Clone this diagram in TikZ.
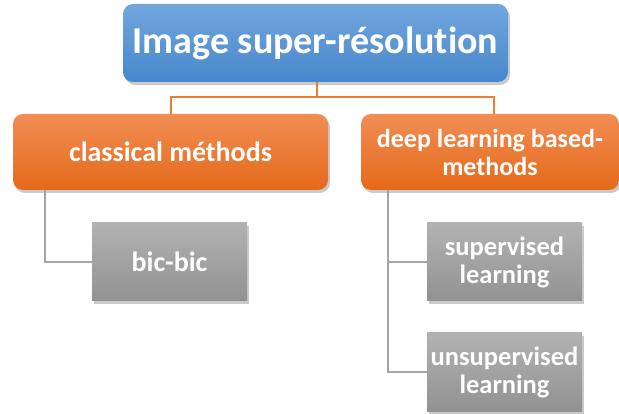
\documentclass[tikz,border=0pt]{standalone}
\usepackage{fontspec}
\setmainfont[Ligatures=CommonOff]{Carlito}
\usetikzlibrary{shadows,positioning}

\definecolor{bluetop}{HTML}{72A6DD}
\definecolor{bluebot}{HTML}{4787CC}
\definecolor{orgtop}{HTML}{F18E55}
\definecolor{orgbot}{HTML}{E5691A}
\definecolor{graytop}{HTML}{B2B2B2}
\definecolor{graybot}{HTML}{929292}
\definecolor{orgline}{HTML}{ED7D31}
\definecolor{grayline}{HTML}{A5A5A5}

\tikzset{
  x=1pt, y=-1pt,
  boxbase/.style={inner sep=0pt, text=white, align=center, font=\bfseries,
    drop shadow={shadow xshift=2pt, shadow yshift=-3pt, opacity=0.35, fill=black!60}},
  rootbox/.style={boxbase, rounded corners=10pt, top color=bluetop, bottom color=bluebot,
    font=\bfseries\fontsize{38}{44}\selectfont},
  midbox/.style={boxbase, rounded corners=10pt, top color=orgtop, bottom color=orgbot,
    font=\bfseries\fontsize{28}{28}\selectfont},
  leafbox/.style={boxbase, top color=graytop, bottom color=graybot,
    font=\bfseries\fontsize{28}{28}\selectfont},
  smalltext/.style={font=\bfseries\fontsize{26.5}{28}\selectfont},
  orgconn/.style={draw=orgline, line width=2pt},
  grayconn/.style={draw=grayline, line width=2pt},
}

\begin{document}
\begin{tikzpicture}
\useasboundingbox (0,0) rectangle (619,414);

% boxes: centre, width and height in pixels
\node[rootbox, minimum width=385pt, minimum height=78pt] (root) at (315.5,43) {Image super-résolution};
\node[midbox, minimum width=315pt, minimum height=76pt] (classic) at (170.5,152) {classical méthods};
\node[midbox, smalltext, font=\bfseries\fontsize{26}{28}\selectfont, minimum width=258pt, minimum height=76pt] (deep) at (490,152) {deep learning based-\\methods};
\node[leafbox, minimum width=155pt, minimum height=78pt] (bic) at (169.5,262) {bic-bic};
\node[leafbox, smalltext, minimum width=155pt, minimum height=78pt] (sup) at (504.5,262) {supervised\\learning};
\node[leafbox, smalltext, minimum width=155pt, minimum height=78pt] (unsup) at (504.5,372) {unsupervised\\learning};

% tree connectors
\coordinate (bus) at (317,97);
\draw[orgconn] (root.south -| bus) -- (bus);
\draw[orgconn] (bus) -| (classic.north);
\draw[orgconn] (bus) -| ([xshift=4pt]deep.north);
\coordinate (lbar) at (45,0);
\coordinate (rbar) at (388,0);
\draw[grayconn] (classic.south -| lbar) |- (bic.west);
\draw[grayconn] (deep.south -| rbar) |- (unsup.west);
\draw[grayconn] (sup.west -| rbar) -- (sup.west);
\end{tikzpicture}
\end{document}
